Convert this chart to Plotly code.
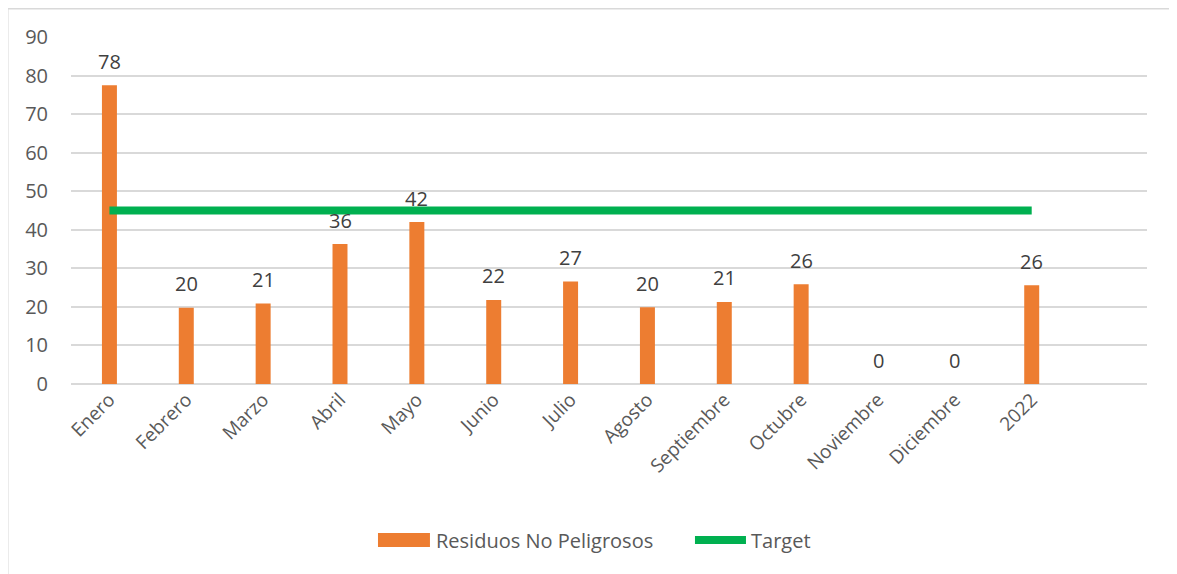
import plotly.graph_objects as go

categories = ["Enero", "Febrero", "Marzo", "Abril", "Mayo", "Junio", "Julio",
              "Agosto", "Septiembre", "Octubre", "Noviembre", "Diciembre", "2022"]
residuos = [77.5, 19.8, 20.9, 36.3, 42.0, 21.8, 26.6, 19.9, 21.3, 25.9, 0, 0, 25.6]
residuos_labels = ["78", "20", "21", "36", "42", "22", "27", "20", "21", "26", "0", "0", "26"]
target = [45] * len(categories)

FONT = "Open Sans"
ORANGE = "#ED7D31"
GREEN = "#00B050"
TXT = "#595959"

fig = go.Figure()
fig.add_trace(go.Bar(
    x=categories, y=residuos, name="Residuos No Peligrosos",
    marker=dict(color=ORANGE, line=dict(width=0)), showlegend=False,
))
fig.add_trace(go.Scatter(
    x=categories, y=target, name="Target", mode="lines",
    line=dict(color=GREEN, width=8), showlegend=False,
))

annotations = []
for i, (v, t) in enumerate(zip(residuos, residuos_labels)):
    annotations.append(dict(x=i, y=v, xref="x", yref="y", text=t, showarrow=False,
                            yanchor="middle", yshift=24,
                            font=dict(family=FONT, size=20, color="#404040")))

# manual legend
annotations.append(dict(x=0.3374, y=-0.4496, xref="paper", yref="paper",
                        text="Residuos No Peligrosos", showarrow=False,
                        xanchor="left", yanchor="middle",
                        font=dict(family=FONT, size=20, color=TXT)))
annotations.append(dict(x=0.6304, y=-0.4496, xref="paper", yref="paper",
                        text="Target", showarrow=False,
                        xanchor="left", yanchor="middle",
                        font=dict(family=FONT, size=20, color=TXT)))

shapes = [
    dict(type="rect", xref="paper", yref="paper",
         x0=-0.0590, x1=1.0270, y0=-0.6, y1=1.0821,
         line=dict(color="#D9D9D9", width=2), fillcolor="rgba(0,0,0,0)", layer="below"),
    dict(type="rect", xref="paper", yref="paper",
         x0=0.2853, x1=0.3336, y0=-0.4697, y1=-0.4294,
         line=dict(width=0), fillcolor=ORANGE),
    dict(type="line", xref="paper", yref="paper",
         x0=0.5799, x1=0.6273, y0=-0.4496, y1=-0.4496,
         line=dict(color=GREEN, width=8)),
]

fig.update_layout(
    width=1169, height=566,
    margin=dict(l=63, r=30, t=29, b=190),
    paper_bgcolor="white", plot_bgcolor="white",
    bargap=0.805,
    font=dict(family=FONT, size=20, color=TXT),
    showlegend=False,
    xaxis=dict(
        type="category", categoryorder="array", categoryarray=categories,
        range=[-0.5, 13.5], tickangle=-45, showgrid=False, showline=False,
        ticks="", tickfont=dict(family=FONT, size=19, color=TXT),
    ),
    yaxis=dict(
        range=[0, 90], dtick=10, showgrid=True, gridcolor="#D9D9D9", gridwidth=1.5,
        zeroline=True, zerolinecolor="#D9D9D9", zerolinewidth=1.5,
        showline=False, ticks="", ticklabelstandoff=22,
        tickfont=dict(family=FONT, size=20, color=TXT),
    ),
    annotations=annotations,
    shapes=shapes,
)

fig.write_html("out.html")
